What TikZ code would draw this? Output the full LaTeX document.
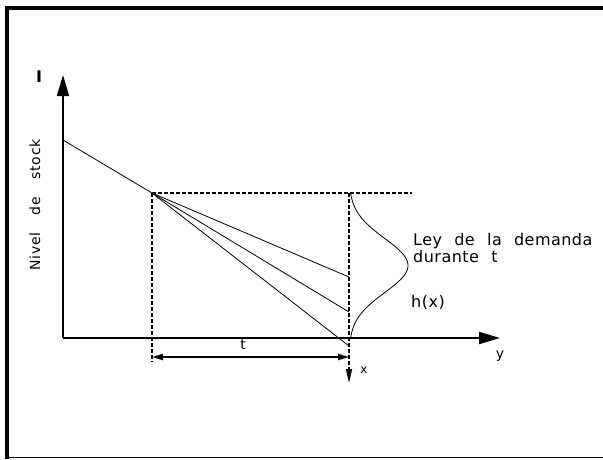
\documentclass[tikz,border=0pt]{standalone}
\usepackage{fontspec}
\newfontfamily\labelfont[LetterSpace=3, WordSpace=2.2]{DejaVu Sans}
\newfontfamily\sidefont[LetterSpace=5, WordSpace=3.4]{DejaVu Sans}
\usetikzlibrary{arrows.meta,positioning,calc}

\begin{document}
\begin{tikzpicture}[x=1pt, y=-1pt,
    axis/.style={line width=2pt, -{Triangle[length=21pt,width=12pt]}},
    guide/.style={line width=1.5pt, dash pattern=on 4pt off 2pt},
    ramp/.style={line width=0.8pt},
    lbl/.style={font=\labelfont\fontsize{16}{17}\selectfont, inner sep=0pt}]
    \useasboundingbox (0,0) rectangle (603,459);

    % Frame
    \draw[line width=4pt] (7,6) -- (7,459);
    \draw[line width=4pt] (5,8) -- (603,8);
    \draw[line width=1.5pt] (5,457.5) -- (603,457.5);

    % Points
    \coordinate (O) at (63,338);
    \coordinate (ytip) at (63,75);
    \coordinate (xtip) at (500,338);
    \coordinate (A) at (63,140);
    \coordinate (B) at (152,193);
    \coordinate (C1) at (349,277);
    \coordinate (C2) at (349,312);
    \coordinate (C3) at (349,346);
    \coordinate (Bend) at (412,193);
    \coordinate (Bdown) at (152,362);
    \coordinate (Ctop) at (349,193);
    \coordinate (Cdown) at (349,383);
    \coordinate (D1) at (152,357);
    \coordinate (D2) at (349,357);

    % Axes
    \draw[axis] (O) -- (ytip);
    \draw[axis] (O) -- (xtip);
    \node[lbl, font=\labelfont\bfseries\fontsize{16}{17}\selectfont] (ilab) at (39,77) {I};
    \node[lbl, font=\labelfont\fontsize{14}{16}\selectfont] (ylab) at (500,356) {y};
    \node[lbl, rotate=90, font=\sidefont\fontsize{14}{16}\selectfont] (nivel) at (35,205) {Nivel de stock};

    % Stock level lines
    \draw[ramp] (A) -- (B);
    \draw[ramp] (B) -- (C1);
    \draw[ramp] (B) -- (C2);
    \draw[ramp] (B) -- (C3);

    % Dashed guides
    \draw[guide] (B) -- (Bend);
    \draw[guide] (B) -- (Bdown);
    \draw[guide, -{Triangle[length=14pt,width=6pt]}] (Ctop) -- (Cdown);
    \node[lbl, font=\labelfont\fontsize{12}{14}\selectfont] (xlab) at (364,370) {x};

    % Interval t
    \draw[line width=2pt, {Triangle[length=11pt,width=6pt]}-{Triangle[length=11pt,width=6pt]}] (D1) -- (D2);
    \node[lbl, font=\labelfont\fontsize{14}{16}\selectfont] (tlab) at (243,345) {t};

    % Demand curve
    \draw[ramp] plot[domain=193:338, samples=80, smooth, variable=\t]
        ({349+59*exp(-((\t-265.5)/27)^2/2)}, {\t});
    \node[lbl] (hlab) at (428,302) {h(x)};
    \node[lbl, anchor=north west, align=left] (ley) at (413,233) {Ley de la demanda\\durante t};
\end{tikzpicture}
\end{document}
